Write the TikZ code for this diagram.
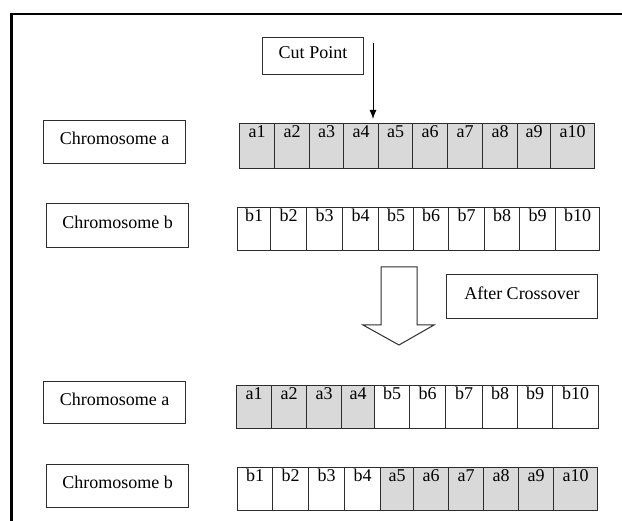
\documentclass[tikz,border=0pt]{standalone}
\usepackage{fontspec}
\setmainfont{Liberation Serif}
\usetikzlibrary{arrows.meta}
\definecolor{gcell}{RGB}{217,217,217}
\definecolor{edge}{RGB}{45,45,45}
\newcommand\cellrow[4]{%
  \foreach \l/\r/\t/\f [count=\i] in {#4}{%
    \node[cellbox, fill=\f, minimum width={(\r-\l)*1pt}, minimum height={(#3-#2)*1pt},
          anchor=north west, label={[celltext]north:\t}] (#1\i) at (\l,#2) {};
  }}
\begin{document}
\begin{tikzpicture}[x=1pt,y=-1pt,
  txt/.style={font=\fontsize{18}{20}\selectfont},
  labelbox/.style={draw=edge, line width=1pt, fill=white, txt, inner sep=0pt,
    text height=12pt, text depth=6pt, anchor=north west},
  cellbox/.style={draw=edge, line width=1.1pt, inner sep=0pt},
  celltext/.style={txt, anchor=north, inner sep=2.5pt, text height=12.3pt, text depth=0pt},
]
\useasboundingbox (0,0) rectangle (622,521);
\fill[white] (0,0) rectangle (622,521);
% frame (top and left edges visible)
\draw[line width=2.8pt] (11.5,530) -- (11.5,14) -- (630,14);

% label boxes
\node[labelbox, minimum width=101pt, minimum height=37pt] (cut) at (262,37) {Cut Point};
\node[labelbox, minimum width=142pt, minimum height=43pt] (chA) at (43,120) {Chromosome a};
\node[labelbox, minimum width=142pt, minimum height=44pt] (chB) at (46,203) {Chromosome b};
\node[labelbox, minimum width=151pt, minimum height=44pt] (after) at (446,274) {After Crossover};
\node[labelbox, minimum width=142pt, minimum height=42pt] (chA2) at (43,381) {Chromosome a};
\node[labelbox, minimum width=142pt, minimum height=43pt] (chB2) at (46,464) {Chromosome b};

% chromosome rows
\cellrow{A}{123}{168}{239/274/a1/gcell,274/309/a2/gcell,309/343/a3/gcell,343/378/a4/gcell,378/412/a5/gcell,412/447/a6/gcell,447/482/a7/gcell,482/517/a8/gcell,517/550/a9/gcell,550/594/a10/gcell}
\cellrow{B}{207}{250}{237/270/b1/white,270/306/b2/white,306/342/b3/white,342/378/b4/white,378/413/b5/white,413/448/b6/white,448/484/b7/white,484/519/b8/white,519/555/b9/white,555/599/b10/white}
\cellrow{C}{385}{428}{236/271/a1/gcell,271/306/a2/gcell,306/341/a3/gcell,341/374/a4/gcell,374/409/b5/white,409/445/b6/white,445/482/b7/white,482/517/b8/white,517/552/b9/white,552/598/b10/white}
\cellrow{D}{467}{510}{237/272/b1/white,272/308/b2/white,308/344/b3/white,344/380/b4/white,380/413/a5/gcell,413/448/a6/gcell,448/483/a7/gcell,483/518/a8/gcell,518/553/a9/gcell,553/597/a10/gcell}

% cut point arrow
\coordinate (cutstart) at (373,43);
\coordinate (cutend) at (373,119);
\draw[line width=1pt, -{Latex[length=9pt,width=7pt]}] (cutstart) -- (cutend);

% big hollow arrow
\draw[draw=edge, line width=1pt, fill=white, line join=miter]
  (381,267) -- (417,267) -- (417,325) -- (434,325) -- (399,345) -- (363,325) -- (381,325) -- cycle;
\end{tikzpicture}
\end{document}
